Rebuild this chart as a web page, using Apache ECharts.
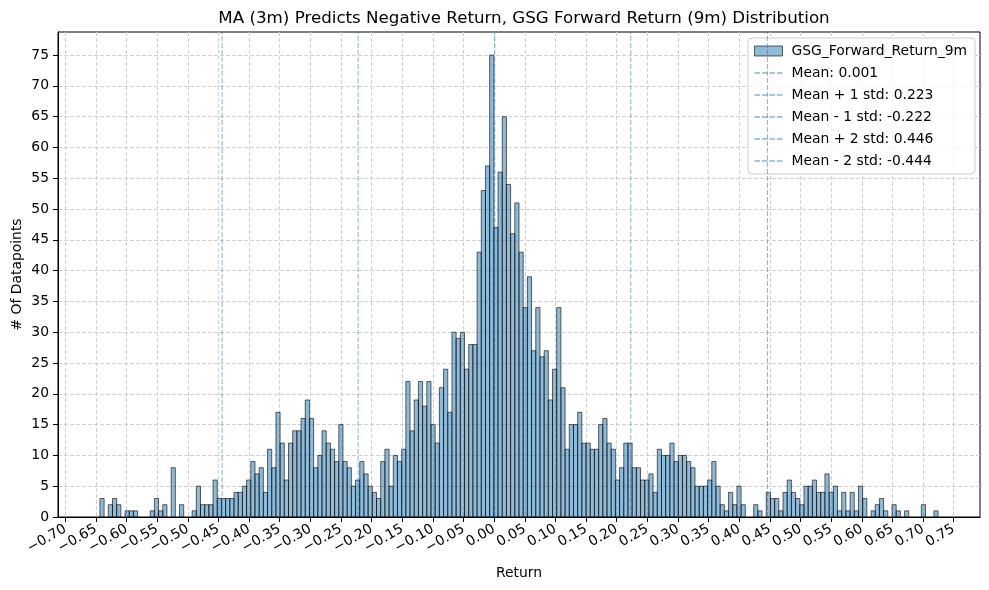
<!DOCTYPE html>
<html>
<head>
<meta charset="utf-8">
<script src="https://cdn.jsdelivr.net/npm/echarts@6.0.0/dist/echarts.min.js"></script>
<style>
html, body { margin: 0; padding: 0; background: #fff; }
#main { width: 989px; height: 590px; }
</style>
</head>
<body>
<div id="main"></div>
<script>
// histogram range and counts (200 equal bins)
var histMin = -0.6434;
var histMax = 0.7245;
var counts = [
    3, 0, 2, 3, 2, 0, 1, 1, 1, 0,
    0, 0, 1, 3, 1, 2, 0, 8, 0, 2,
    0, 0, 1, 5, 2, 2, 2, 6, 3, 3,
    3, 3, 4, 4, 5, 6, 9, 7, 8, 4,
    11, 8, 17, 12, 6, 12, 14, 14, 16, 19,
    16, 8, 10, 14, 12, 11, 9, 15, 9, 8,
    5, 6, 9, 7, 5, 4, 3, 9, 11, 5,
    10, 9, 11, 22, 14, 19, 22, 18, 22, 15,
    12, 21, 24, 17, 30, 29, 30, 24, 28, 28,
    43, 53, 57, 75, 47, 56, 65, 54, 46, 51,
    43, 34, 39, 27, 34, 26, 27, 19, 24, 34,
    21, 11, 15, 15, 17, 12, 12, 11, 11, 15,
    16, 12, 11, 6, 8, 12, 12, 8, 8, 6,
    6, 7, 4, 11, 10, 10, 12, 9, 10, 10,
    9, 8, 5, 5, 5, 6, 9, 5, 2, 1,
    4, 2, 5, 2, 0, 0, 2, 1, 0, 4,
    3, 3, 1, 4, 6, 4, 3, 2, 5, 5,
    6, 4, 4, 7, 4, 5, 1, 4, 1, 4,
    1, 5, 3, 0, 1, 2, 3, 1, 0, 2,
    1, 0, 1, 0, 0, 0, 2, 0, 0, 1
];
var seriesName = 'GSG_Forward_Return_9m';
var refNames = ['Mean: 0.001', 'Mean + 1 std: 0.223', 'Mean - 1 std: -0.222', 'Mean + 2 std: 0.446', 'Mean - 2 std: -0.444'];
var refValues = [0.001, 0.223, -0.222, 0.446, -0.444];
var xTicks = [-0.70, -0.65, -0.60, -0.55, -0.50, -0.45, -0.40, -0.35, -0.30, -0.25, -0.20, -0.15, -0.10, -0.05,
    0.00, 0.05, 0.10, 0.15, 0.20, 0.25, 0.30, 0.35, 0.40, 0.45, 0.50, 0.55, 0.60, 0.65, 0.70, 0.75];
var yTicks = [0, 5, 10, 15, 20, 25, 30, 35, 40, 45, 50, 55, 60, 65, 70, 75];

var font = 'DejaVu Sans';
var binW = (histMax - histMin) / counts.length;
var pad = (histMax - histMin) * 0.05;
var yMax = 75 * 1.05;

var binData = counts.map(function (c, i) {
    return [histMin + i * binW, histMin + (i + 1) * binW, c];
});

var barFill = 'rgba(31,119,180,0.5)';
var barEdge = 'rgba(0,0,0,0.6)';
var refColor = 'rgba(31,119,180,0.55)';
// dashed line icon for the legend (4 dashes over 28px)
var dashIcon = 'path://M0,0h5.5v1.4h-5.5zM7.5,0h5.5v1.4h-5.5zM15,0h5.5v1.4h-5.5zM22.5,0h5.5v1.4h-5.5z';

var series = [{
    name: seriesName,
    type: 'custom',
    itemStyle: { color: barFill, borderColor: barEdge, borderWidth: 1 },
    encode: { x: [0, 1], y: 2 },
    renderItem: function (params, api) {
        var h = api.value(2);
        if (!h) return null;
        var p0 = api.coord([api.value(0), h]);
        var p1 = api.coord([api.value(1), 0]);
        return {
            type: 'rect',
            shape: { x: p0[0], y: p0[1], width: p1[0] - p0[0], height: p1[1] - p0[1] },
            style: { fill: barFill, stroke: barEdge, lineWidth: 1 }
        };
    },
    data: binData,
    z: 3
}];

refValues.forEach(function (v, i) {
    series.push({
        name: refNames[i],
        type: 'line',
        symbol: 'none',
        silent: true,
        lineStyle: { color: refColor, width: 1, type: [5, 2] },
        itemStyle: { color: refColor },
        data: [[v, 0], [v, yMax]],
        z: 4
    });
});

var legendData = [{ name: seriesName, icon: 'rect', itemStyle: { color: barFill, borderColor: barEdge, borderWidth: 1 } }]
    .concat(refNames.map(function (n) {
        return { name: n, icon: dashIcon, itemStyle: { color: refColor, borderWidth: 0 } };
    }));

var myChart = echarts.init(document.getElementById('main'), null, { renderer: 'canvas' });
var option = {
    animation: false,
    backgroundColor: '#fff',
    title: {
        text: 'MA (3m) Predicts Negative Return, GSG Forward Return (9m) Distribution',
        left: 519,
        textAlign: 'center',
        top: 5,
        textStyle: { fontFamily: font, fontSize: 16.7, fontWeight: 'normal', color: '#000' }
    },
    legend: {
        orient: 'vertical',
        right: 14,
        top: 38,
        itemWidth: 28,
        itemHeight: 10,
        itemGap: 8,
        symbolKeepAspect: true,
        padding: [6, 8, 6, 6],
        borderColor: '#cccccc',
        borderWidth: 1,
        borderRadius: 4,
        backgroundColor: 'rgba(255,255,255,0.8)',
        textStyle: { fontFamily: font, fontSize: 13.9, color: '#000', padding: [0, 0, 0, 4] },
        data: legendData
    },
    grid: {
        left: 58, right: 9, top: 32, bottom: 73,
        outerBoundsMode: 'none',
        show: true, borderColor: '#000', borderWidth: 1
    },
    xAxis: {
        type: 'value',
        min: histMin - pad,
        max: histMax + pad,
        name: 'Return',
        nameLocation: 'middle',
        nameGap: 49,
        nameMoveOverlap: false,
        nameTextStyle: { fontFamily: font, fontSize: 13.9, color: '#000' },
        axisLine: { onZero: false, lineStyle: { color: '#000' } },
        axisTick: { show: true, length: 5, lineStyle: { color: '#000' }, customValues: xTicks },
        axisLabel: {
            customValues: xTicks,
            rotate: 30,
            margin: 11,
            fontFamily: font,
            fontSize: 13.9,
            color: '#000',
            formatter: function (v) {
                return (Math.round(v * 100) / 100).toFixed(2).replace('-', '\u2212');
            }
        },
        splitLine: { show: true, lineStyle: { color: '#d0d0d0', type: [4, 2] } }
    },
    yAxis: {
        type: 'value',
        min: 0,
        max: yMax,
        name: '# Of Datapoints',
        nameLocation: 'middle',
        nameGap: 34,
        nameMoveOverlap: false,
        nameTextStyle: { fontFamily: font, fontSize: 13.9, color: '#000' },
        axisLine: { show: true, onZero: false, lineStyle: { color: '#000' } },
        axisTick: { show: true, length: 5, lineStyle: { color: '#000' }, customValues: yTicks },
        axisLabel: { customValues: yTicks, margin: 9, fontFamily: font, fontSize: 13.9, color: '#000' },
        splitLine: { show: true, lineStyle: { color: '#d0d0d0', type: [4, 2] } }
    },
    series: series
};
myChart.setOption(option);
</script>
</body>
</html>
